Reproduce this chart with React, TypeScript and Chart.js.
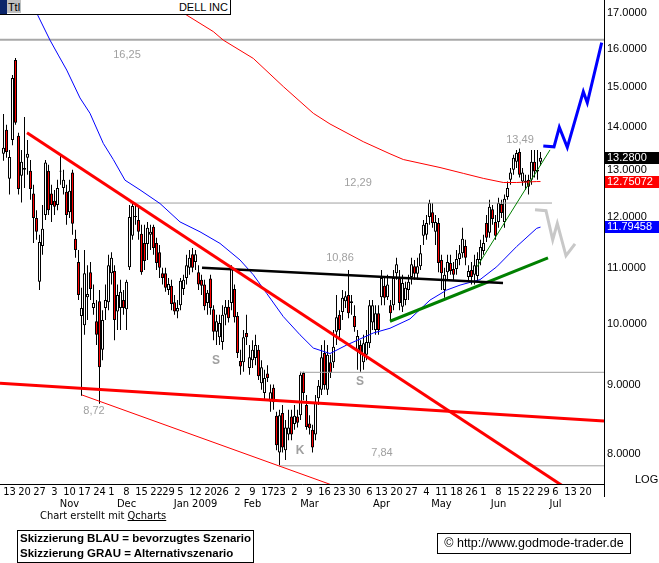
import { useEffect, useRef } from 'react';
import { Chart, registerables } from 'chart.js';

Chart.register(...registerables);

const FONT = "'Liberation Sans', Arial, sans-serif";
const NARROW = "'Liberation Sans Narrow', 'Arial Narrow', 'DejaVu Sans Condensed', sans-serif";

// Daily candles, one per trading day (array position = trading-day index, first = 9 Oct 2008)
const candleOpen = [13.37, 13.93, 12.81, 13.69, 15.7, 13.79, 12.88, 13.01, 13.28, 12.99, 12.49, 11.98, 10.74, 11.42, 12.04, 12.99, 12.49, 12.34, 12.25, 12.99, 12.61, 12.53, 12.1, 12.95, 11.56, 11.11, 10.13, 9.97, 10.46, 10.92, 10.27, 10.04, 10.39, 9.56, 10.27, 10.37, 10.9, 10.94, 10.21, 10.27, 10.41, 10.25, 11.01, 11.62, 12.0, 11.94, 11.66, 11.48, 11.46, 11.64, 11.8, 11.48, 11.3, 10.9, 10.9, 10.59, 10.67, 10.37, 10.21, 10.32, 10.61, 10.81, 11.0, 11.26, 11.11, 10.92, 10.78, 10.69, 10.36, 10.8, 10.25, 9.86, 9.77, 9.69, 10.15, 10.29, 10.36, 10.61, 10.13, 9.38, 9.36, 9.84, 9.27, 9.39, 9.43, 9.56, 9.03, 8.88, 9.18, 8.75, 8.96, 8.54, 8.02, 8.58, 8.05, 8.27, 8.53, 8.42, 8.53, 8.55, 9.19, 8.7, 8.43, 8.34, 8.27, 8.8, 8.93, 9.51, 8.93, 9.36, 9.36, 9.86, 10.15, 10.2, 10.39, 10.5, 10.36, 10.13, 9.56, 9.64, 9.36, 9.48, 9.67, 10.02, 9.89, 10.18, 10.46, 10.67, 10.46, 10.32, 10.32, 10.9, 10.8, 10.29, 10.41, 10.59, 10.83, 11.03, 10.89, 11.03, 11.62, 11.64, 12.0, 12.1, 11.7, 11.88, 11.15, 10.59, 10.92, 11.09, 10.98, 10.98, 11.17, 11.28, 11.42, 10.83, 10.96, 10.87, 10.85, 11.15, 11.32, 11.88, 11.68, 12.16, 11.9, 11.9, 12.27, 11.9, 12.42, 12.79, 13.01, 13.19, 13.41, 12.75, 12.73, 12.79, 12.79, 13.19, 12.97, 13.19];
const candleHigh = [14.31, 14.05, 13.46, 15.3, 15.75, 13.86, 13.46, 14.24, 13.69, 13.23, 12.68, 12.14, 11.64, 12.25, 13.23, 13.12, 12.68, 12.57, 12.79, 13.35, 13.01, 12.68, 12.79, 13.01, 11.74, 11.34, 10.63, 11.34, 11.05, 11.11, 10.69, 10.41, 10.59, 10.23, 10.69, 11.25, 11.3, 11.05, 10.69, 10.78, 10.59, 10.78, 12.25, 12.31, 12.29, 12.25, 11.84, 11.84, 11.9, 11.84, 11.84, 11.58, 11.44, 11.0, 11.0, 10.81, 10.78, 10.5, 10.41, 10.81, 10.87, 11.25, 11.34, 11.38, 11.34, 11.05, 10.87, 10.78, 10.59, 10.87, 10.32, 10.15, 10.15, 10.32, 10.41, 10.41, 11.05, 10.69, 10.2, 9.56, 9.89, 10.15, 9.64, 9.72, 9.81, 9.64, 9.39, 9.24, 9.31, 9.01, 9.01, 8.6, 8.63, 8.7, 8.48, 8.63, 8.63, 8.7, 8.63, 9.21, 9.21, 8.85, 8.55, 8.41, 8.85, 9.08, 9.64, 9.72, 9.64, 9.48, 9.89, 10.5, 10.23, 10.59, 10.57, 10.96, 10.5, 10.32, 9.89, 9.72, 9.81, 9.89, 10.41, 10.41, 10.32, 10.32, 10.96, 10.81, 10.87, 10.41, 10.96, 11.19, 10.96, 10.87, 10.74, 10.87, 11.19, 11.15, 11.19, 11.44, 11.94, 12.04, 12.36, 12.29, 12.04, 11.98, 11.25, 11.0, 11.25, 11.25, 11.11, 11.34, 11.44, 11.78, 11.54, 11.05, 11.11, 11.25, 11.3, 11.54, 11.64, 12.04, 12.36, 12.25, 12.04, 12.4, 12.36, 12.47, 12.75, 13.05, 13.35, 13.46, 13.49, 13.05, 12.9, 12.9, 13.46, 13.46, 13.46, 13.41];
const candleLow = [13.21, 13.28, 12.47, 13.57, 14.05, 12.47, 12.3, 12.61, 12.9, 12.36, 11.48, 11.54, 10.59, 11.25, 11.94, 12.04, 11.9, 12.04, 12.14, 12.68, 12.47, 11.84, 11.98, 11.64, 11.19, 10.41, 8.84, 9.81, 10.06, 10.41, 10.15, 9.64, 8.72, 9.39, 10.06, 10.23, 10.69, 9.72, 9.89, 9.89, 10.15, 9.89, 10.96, 11.54, 11.84, 11.54, 10.87, 10.96, 11.15, 11.34, 11.25, 10.96, 10.81, 10.69, 10.56, 10.5, 10.23, 10.15, 10.09, 10.23, 10.5, 10.69, 10.87, 10.92, 10.96, 10.59, 10.5, 10.23, 10.15, 10.15, 9.72, 9.64, 9.64, 9.56, 9.97, 10.02, 10.23, 10.02, 9.43, 9.16, 9.21, 9.64, 9.16, 9.27, 9.31, 9.08, 8.93, 8.77, 9.05, 8.6, 8.63, 8.05, 7.85, 8.02, 7.92, 8.19, 8.19, 8.34, 8.37, 8.48, 8.77, 8.34, 8.27, 8.02, 8.19, 8.7, 8.85, 8.93, 8.85, 9.11, 9.27, 9.64, 9.72, 10.06, 10.27, 10.09, 10.15, 9.86, 9.24, 9.21, 9.24, 9.39, 9.59, 9.89, 9.81, 9.81, 10.32, 10.32, 10.41, 10.06, 10.23, 10.78, 10.23, 10.2, 10.32, 10.41, 10.69, 10.78, 10.78, 10.96, 11.44, 11.54, 11.84, 11.78, 11.44, 10.92, 10.59, 10.45, 10.78, 10.87, 10.78, 10.87, 11.05, 11.19, 11.05, 10.74, 10.69, 10.69, 10.74, 11.05, 11.25, 11.5, 11.58, 11.84, 11.54, 11.78, 11.98, 11.78, 12.36, 12.68, 12.9, 13.05, 12.84, 12.66, 12.57, 12.47, 12.68, 12.84, 12.79, 13.1];
const candleClose = [13.51, 13.41, 13.3, 15.22, 14.1, 12.59, 13.19, 13.05, 13.37, 12.59, 11.98, 11.7, 11.5, 11.76, 13.17, 12.14, 12.25, 12.21, 12.61, 12.97, 12.79, 12.04, 12.55, 11.86, 11.34, 10.5, 10.27, 10.9, 10.52, 10.61, 10.36, 9.81, 9.28, 10.06, 10.41, 11.05, 11.19, 10.06, 10.5, 10.56, 10.27, 10.74, 12.0, 12.23, 12.02, 11.7, 10.92, 11.13, 11.78, 11.7, 11.38, 11.09, 11.0, 10.81, 10.63, 10.7, 10.34, 10.21, 10.27, 10.76, 10.78, 11.05, 11.19, 11.0, 11.26, 10.69, 10.67, 10.3, 10.54, 10.27, 9.86, 10.04, 10.01, 10.15, 10.29, 10.09, 10.98, 10.11, 9.51, 9.29, 9.77, 9.77, 9.44, 9.56, 9.64, 9.14, 9.28, 9.11, 9.11, 8.89, 8.74, 8.12, 8.55, 8.09, 8.37, 8.37, 8.27, 8.54, 8.44, 9.16, 8.88, 8.38, 8.36, 8.09, 8.73, 8.99, 9.44, 9.0, 9.48, 9.19, 9.61, 10.11, 9.89, 10.45, 10.48, 10.18, 10.39, 9.94, 9.79, 9.49, 9.67, 9.69, 10.32, 10.32, 10.18, 9.89, 10.81, 10.45, 10.69, 10.18, 10.81, 11.07, 10.36, 10.72, 10.63, 10.74, 11.07, 10.89, 11.03, 11.28, 11.84, 11.88, 12.29, 11.88, 11.9, 11.09, 10.9, 10.87, 11.11, 10.94, 10.87, 11.17, 11.28, 11.56, 11.19, 10.94, 10.83, 11.05, 11.17, 11.4, 11.48, 11.58, 12.21, 11.96, 11.62, 12.29, 12.08, 12.38, 12.61, 12.95, 13.28, 13.39, 12.9, 12.95, 12.77, 12.64, 13.19, 12.97, 13.01, 13.28];

// Moving averages: [trading-day index, value]
const redMA = [[45, 17.8], [61.07, 16.95], [69.93, 16.48], [73.27, 16.24], [83.27, 15.74], [93.27, 15.0], [103.27, 14.33], [108.83, 14.07], [119.93, 13.65], [128.83, 13.37], [133.27, 13.24], [145.5, 13.06], [153.27, 12.93], [159.93, 12.82], [166.6, 12.73], [171.07, 12.73], [177.73, 12.75], [179, 12.75072]];
const blueMA = [[0, 19.0], [7.17, 17.69], [11.4, 16.95], [15.5, 16.24], [18.27, 15.83], [21.07, 15.43], [25.5, 14.71], [28.83, 14.33], [33.27, 13.61], [36.6, 13.24], [40.5, 12.78], [45.5, 12.57], [52.17, 12.28], [58.83, 11.9], [65.5, 11.7], [72.17, 11.47], [78.83, 11.15], [83.27, 10.87], [87.73, 10.53], [93.27, 10.12], [98.83, 9.81], [103.27, 9.59], [108.83, 9.5], [114.4, 9.64], [123.27, 9.84], [128.83, 9.92], [135.5, 10.08], [142.17, 10.41], [147.73, 10.59], [152.17, 10.68], [158.83, 10.78], [164.4, 11.02], [171.07, 11.41], [177.73, 11.77], [179, 11.79458]];

// Drawn trend lines and levels: [trading-day index, value]
const redTrend = [[7.83, 13.86], [200.17, 7.23]];
const redSupport = [[-1.17, 9.03], [200.17, 8.465]];
const redChannel = [[26.17, 8.85], [111.83, 7.554]];
const blackNeck = [[66.17, 11.0], [166.5, 10.72]];
const greenTrend = [[128.83, 10.04], [181.5, 11.19]];
const greenFast = [[157.83, 11.02], [182.17, 13.46]];
const level1625 = [[-1.17, 16.25], [200.17, 16.25]];
const level1229 = [[42.17, 12.29], [182.83, 12.29]];
const level920 = [[98.83, 9.2], [200.17, 9.2]];
const level784 = [[91.83, 7.84], [200.17, 7.84]];
const blueScenario = [[179.93, 13.55], [183.5, 13.53], [185.27, 13.99], [187.93, 13.52], [193.27, 14.87], [194.6, 14.59], [199.4, 16.17]];
const greyScenario = [[177.17, 12.15], [180.83, 12.13], [183.07, 11.54], [184.6, 11.87], [187.5, 11.23], [190.5, 11.46]];

// Axis ticks
const yTicks = [8, 9, 10, 11, 12, 13, 14, 15, 16, 17];
const tickIdx = [2, 7, 12, 17, 22, 27, 32, 36, 41, 46, 51, 55, 59, 64, 69, 73, 78, 83, 88, 92, 97, 102, 107, 112, 117, 122, 126, 131, 136, 141, 146, 151, 156, 160, 165, 170, 175, 180, 184, 189, 194];
const tickDay = ['13', '20', '27', '3', '10', '17', '24', '1', '8', '15', '22', '29', '5', '12', '20', '26', '2', '9', '17', '23', '2', '9', '16', '23', '30', '6', '13', '20', '27', '4', '11', '18', '26', '1', '8', '15', '22', '29', '6', '13', '20'];
const tickMonth = ['', '', '', '', 'Nov', '', '', '', 'Dec', '', '', '', '', 'Jan 2009', '', '', '', 'Feb', '', '', '', 'Mar', '', '', '', '', 'Apr', '', '', '', 'May', '', '', '', 'Jun', '', '', '', 'Jul', '', ''];

// Chart annotations (text, trading-day index, price)
const annoText = ['16,25', '12,29', '10,86', '13,49', '8,72', '7,84', 'S', 'S', 'K'];
const annoIdx = [41.17, 118.17, 112.17, 172.17, 30.17, 126.17, 70.83, 118.83, 98.83];
const annoVal = [15.83, 12.73, 11.19, 13.69, 8.61, 8.01, 9.38, 9.05, 8.05];

export default function App() {
  const ref = useRef<HTMLCanvasElement>(null);

  useEffect(() => {
    const canvas = ref.current;
    if (!canvas) return;
    const idx = candleClose.map((_, i) => i);
    const last = candleClose.length - 1;
    const tags = [
      { text: candleClose[last].toFixed(4), value: candleClose[last], bg: '#000000' },
      { text: redMA[redMA.length - 1][1].toFixed(5), value: redMA[redMA.length - 1][1], bg: '#ff0000' },
      { text: blueMA[blueMA.length - 1][1].toFixed(5), value: blueMA[blueMA.length - 1][1], bg: '#0000ff' },
    ];

    const line = (pts: number[][], color: string, width: number, order: number) => ({
      type: 'line' as const,
      data: pts.map(([x, y]) => ({ x, y })),
      borderColor: color,
      borderWidth: width,
      pointRadius: 0,
      fill: false,
      tension: 0,
      order,
      borderCapStyle: 'butt' as const,
    });

    const overlay = {
      id: 'overlay',
      afterDatasetsDraw(chart: any) {
        const { ctx } = chart;
        const xs = chart.scales.x;
        const ys = chart.scales.y;
        ctx.save();
        ctx.textAlign = 'center';
        ctx.textBaseline = 'middle';
        ctx.fillStyle = '#a0a0a0';
        annoText.forEach((t, k) => {
          ctx.font = t.length === 1 ? `bold 12px ${FONT}` : `11px ${FONT}`;
          ctx.fillText(t, xs.getPixelForValue(annoIdx[k]), ys.getPixelForValue(annoVal[k]));
        });
        ctx.restore();
      },
      afterDraw(chart: any) {
        const { ctx, chartArea } = chart;
        const ys = chart.scales.y;
        ctx.save();
        ctx.font = `11px ${FONT}`;
        ctx.textBaseline = 'middle';
        ctx.textAlign = 'left';
        tags.forEach((t) => {
          const py = Math.round(ys.getPixelForValue(t.value));
          ctx.fillStyle = t.bg;
          ctx.fillRect(chartArea.right + 1, py - 6, 54, 12);
          ctx.fillStyle = '#ffffff';
          ctx.fillText(t.text, chartArea.right + 3, py);
        });
        ctx.fillStyle = '#000000';
        ctx.fillText('LOG', chartArea.right + 31, chartArea.bottom - 4);
        ctx.fillRect(chartArea.right, chartArea.bottom, 1, 13);
        ctx.restore();
      },
    };

    const chart = new Chart(canvas, {
      type: 'line',
      data: {
        datasets: [
          line(blueScenario, '#0000ff', 3, 1),
          line(greyScenario, '#c8c8c8', 3, 1),
          line(redTrend, '#ff0000', 3, 2),
          line(redSupport, '#ff0000', 3, 2),
          line(redChannel, '#ff0000', 1, 2),
          line(blackNeck, '#000000', 2.5, 2),
          line(greenTrend, '#008000', 3, 2),
          line(greenFast, '#008000', 1, 2),
          line(redMA, '#ff0000', 1, 3),
          line(blueMA, '#0000ff', 1, 3),
          line(level1625, '#a8a8a8', 2, 4),
          line(level1229, '#a0a0a0', 1, 4),
          line(level920, '#a0a0a0', 1, 4),
          line(level784, '#a0a0a0', 1, 4),
          {
            type: 'bar',
            data: idx.map((i) => ({ x: i, y: [candleOpen[i], candleClose[i]] })),
            backgroundColor: idx.map((i) => (candleClose[i] >= candleOpen[i] ? '#ffffff' : '#ff0000')),
            borderColor: '#000000',
            borderWidth: 1,
            borderSkipped: false,
            barThickness: 3,
            grouped: false,
            inflateAmount: 0,
            order: 5,
          } as any,
          {
            type: 'bar',
            data: idx.map((i) => ({ x: i, y: [candleLow[i], candleHigh[i]] })),
            backgroundColor: '#000000',
            borderWidth: 0,
            barThickness: 1,
            grouped: false,
            inflateAmount: 0,
            order: 6,
          } as any,
        ],
      },
      options: {
        animation: false,
        responsive: false,
        events: [],
        layout: { padding: 0 },
        plugins: { legend: { display: false }, tooltip: { enabled: false } },
        scales: {
          x: {
            type: 'linear',
            min: -7 / 6,
            max: 200 + 1 / 6,
            offset: false,
            bounds: 'data',
            grid: { display: false, drawTicks: false },
            border: { display: true, color: '#000000', width: 1 },
            afterBuildTicks: (s: any) => {
              s.ticks = tickIdx.map((v) => ({ value: v }));
            },
            afterFit: (s: any) => {
              s.height = 79;
              s.paddingLeft = 0;
              s.paddingRight = 0;
            },
            ticks: {
              autoSkip: false,
              maxRotation: 0,
              minRotation: 0,
              padding: 2,
              color: '#000000',
              font: { family: NARROW, size: 11, lineHeight: 1.1 },
              callback: (v: any) => {
                const k = tickIdx.indexOf(Number(v));
                if (k < 0) return '';
                return tickMonth[k] ? [tickDay[k], tickMonth[k]] : tickDay[k];
              },
            },
          },
          y: {
            type: 'logarithmic',
            position: 'right',
            min: 7.5998,
            max: 17.3946,
            bounds: 'data',
            grid: { display: false, drawTicks: false },
            border: { display: true, color: '#000000', width: 1 },
            afterBuildTicks: (s: any) => {
              s.ticks = yTicks.map((v) => ({ value: v }));
            },
            afterFit: (s: any) => {
              s.width = 55;
              s.paddingTop = 0;
              s.paddingBottom = 0;
            },
            ticks: {
              autoSkip: false,
              padding: 3,
              color: '#000000',
              font: { family: FONT, size: 11 },
              callback: (v: any) => Number(v).toFixed(4),
            },
          },
        },
      } as any,
      plugins: [overlay],
    } as any);
    return () => chart.destroy();
  }, []);

  return (
    <div style={{ position: 'absolute', left: 0, top: 0, width: 659, height: 563, background: '#ffffff', overflow: 'hidden' }}>
      <canvas ref={ref} width={659} height={563} style={{ position: 'absolute', left: 0, top: 0, width: 659, height: 563 }} />
      <div style={{ position: 'absolute', left: 0, top: 0, width: 231, height: 15, boxSizing: 'border-box', background: '#ffffff', borderRight: '1px solid #000', borderBottom: '1px solid #000', fontFamily: FONT, fontSize: 11, lineHeight: '14px' }}>
        <div style={{ position: 'absolute', left: 0, top: 0, width: 7, height: 14, background: '#0a246a' }} />
        <div style={{ position: 'absolute', left: 7, top: 0, width: 14, height: 13, background: '#c0c0c0', textAlign: 'center', color: '#000' }}>Ttl</div>
        <div style={{ position: 'absolute', right: 2, top: 0, color: '#000' }}>DELL INC</div>
      </div>
      <div style={{ position: 'absolute', left: 40, top: 509, fontFamily: NARROW, fontSize: 11, color: '#000', whiteSpace: 'nowrap' }}>
        Chart erstellt mit <span style={{ textDecoration: 'underline' }}>Qcharts</span>
      </div>
      <div style={{ position: 'absolute', left: 17, top: 530, width: 237, height: 33, boxSizing: 'border-box', border: '1px solid #000', fontFamily: FONT, fontWeight: 'bold', fontSize: 11.5, lineHeight: '15px', paddingLeft: 2, paddingTop: 0, whiteSpace: 'nowrap', color: '#000' }}>
        <div>Skizzierung BLAU = bevorzugtes Szenario</div>
        <div>Skizzierung GRAU = Alternativszenario</div>
      </div>
      <div style={{ position: 'absolute', left: 437, top: 533, width: 194, height: 21, boxSizing: 'border-box', border: '1px solid #000', fontFamily: FONT, fontSize: 12.5, lineHeight: '19px', textAlign: 'center', whiteSpace: 'nowrap', color: '#000' }}>
        © http://www.godmode-trader.de
      </div>
    </div>
  );
}
